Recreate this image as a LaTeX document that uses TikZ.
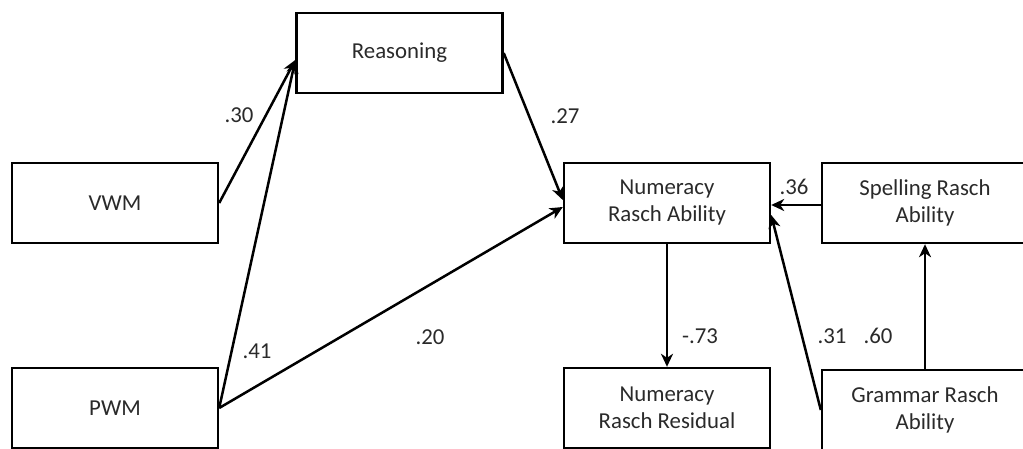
\documentclass[tikz,border=0pt]{standalone}
\usepackage{fontspec}
\setmainfont{Carlito}
\usetikzlibrary{arrows.meta}
\definecolor{txt}{HTML}{2A2A2A}
\begin{document}
\begin{tikzpicture}[x=0.5pt,y=-0.5pt,
  box/.style={draw=black, line width=1.2pt, minimum width=103pt, minimum height=40pt,
    align=center, text=txt, font=\fontsize{11.4}{13.5}\selectfont, inner sep=0pt},
  arr/.style={line width=1.25pt, -{Stealth[length=6.5pt,width=6pt,inset=2pt]}},
  lbl/.style={text=txt, font=\fontsize{11.4}{13.5}\selectfont, inner sep=0pt}]
\useasboundingbox (0,0) rectangle (1023,449);
\clip (0,0) rectangle (1023,449);
\fill[white] (0,0) rectangle (1023,449);
% boxes
\node[box] (R)  at (399.5,53) {Reasoning};
\node[box] (V)  at (115,203) {VWM};
\node[box] (P)  at (115,408) {PWM};
\node[box] (NA) at (667,203) {Numeracy\\Rasch Ability};
\node[box] (NR) at (667,408) {Numeracy\\Rasch Residual};
\node[box] (S)  at (925,203) {Spelling Rasch\\Ability};
\node[box] (G)  at (925,410) {Grammar Rasch\\Ability};
% connectors
\draw[arr] (V.east) -- ([yshift=-3.5pt]R.west);
\draw[arr] (P.east) -- ([yshift=-3.5pt]R.west);
\draw[arr] (R.east) -- ([yshift=1.5pt]NA.west);
\draw[arr] (P.east) -- ([yshift=-2pt]NA.west);
\draw[arr] ([yshift=-1pt]S.west) -- ([yshift=-1pt]NA.east);
\draw[arr] (G.west) -- ([yshift=-6pt]NA.east);
\draw[arr] (G.north) -- (S.south);
\draw[arr] (NA.south) -- (NR.north);
% labels
\node[lbl] (l30) at (239,115) {.30};
\node[lbl] (l27) at (565,116) {.27};
\node[lbl] (l41) at (257,351) {.41};
\node[lbl] (l20) at (430,337) {.20};
\node[lbl] (l73) at (700,336) {-.73};
\node[lbl] (l31) at (832,336) {.31};
\node[lbl] (l60) at (878,336) {.60};
\node[lbl] (l36) at (794,187) {.36};
\end{tikzpicture}
\end{document}
